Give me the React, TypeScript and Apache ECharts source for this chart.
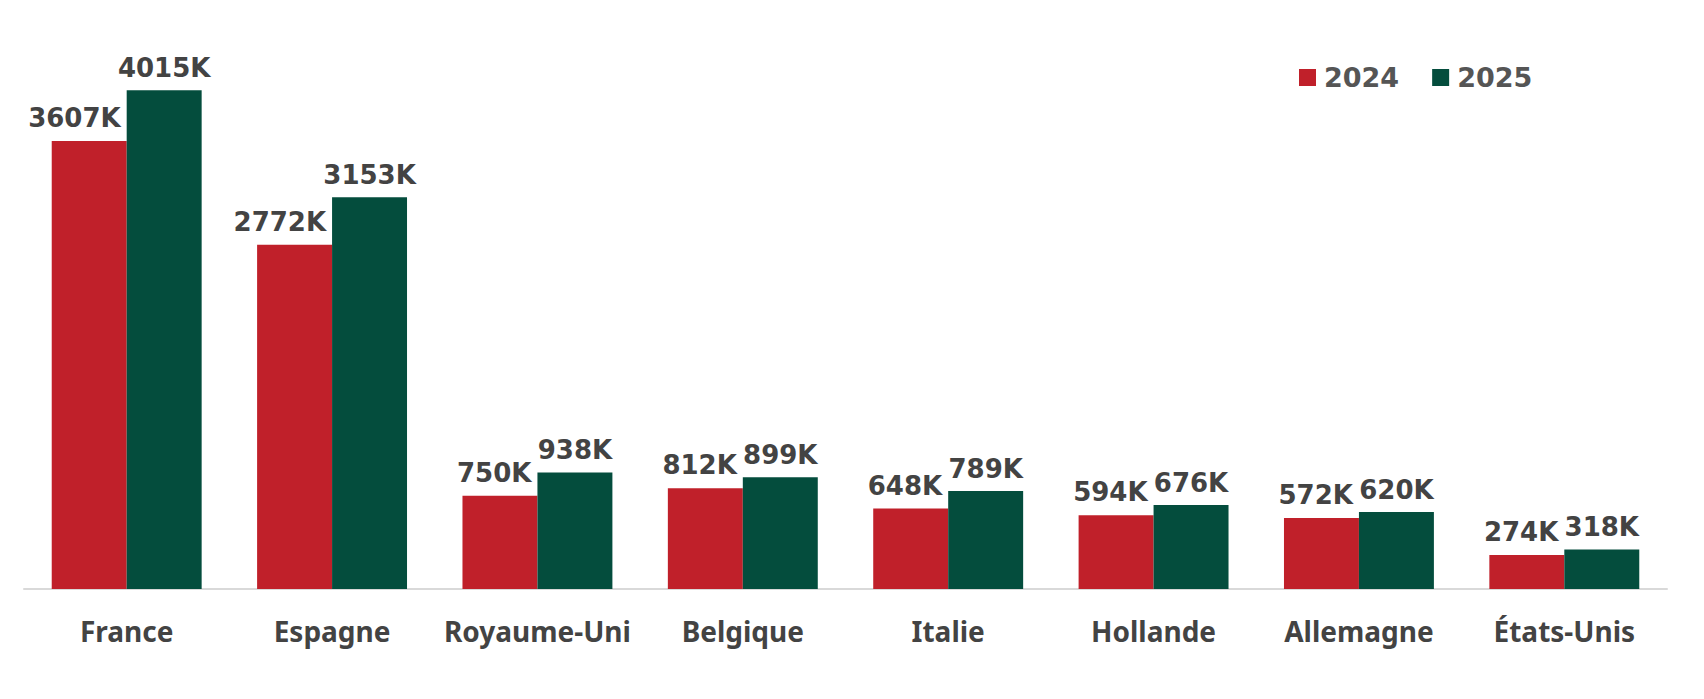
import { useEffect, useRef } from 'react';
import * as echarts from 'echarts';

const countries = ['France', 'Espagne', 'Royaume-Uni', 'Belgique', 'Italie', 'Hollande', 'Allemagne', 'États-Unis'];
const values2024 = [3607, 2772, 750, 812, 648, 594, 572, 274];
const values2025 = [4015, 3153, 938, 899, 789, 676, 620, 318];
const seriesNames = ['2024', '2025'];

const RED = '#c0202a';
const GREEN = '#044d3d';
const TEXT = '#434343';

export default function App() {
  const chartRef = useRef<HTMLDivElement>(null);

  useEffect(() => {
    if (!chartRef.current) return;

    const chart = echarts.init(chartRef.current, null, { renderer: 'svg' });

    const labelFont = {
      fontFamily: 'DejaVu Sans',
      fontWeight: 'bold' as const,
      fontSize: 26,
      color: TEXT,
    };

    chart.setOption({
      animation: false,
      legend: {
        data: seriesNames,
        left: 1294,
        top: 59,
        itemWidth: 17,
        itemHeight: 17,
        itemGap: 33,
        icon: 'rect',
        textStyle: {
          fontFamily: 'DejaVu Sans',
          fontWeight: 'bold',
          fontSize: 27,
          color: '#555555',
          padding: [0, 0, 0, 3],
        },
      },
      grid: {
        left: 24,
        right: 37,
        top: 30,
        bottom: 110,
      },
      xAxis: {
        type: 'category',
        data: countries,
        axisTick: { show: false },
        axisLine: {
          lineStyle: { color: '#d9d9d9', width: 2 },
        },
        axisLabel: {
          interval: 0,
          margin: 28,
          fontFamily: 'Noto Sans',
          fontWeight: 'bold',
          fontSize: 28,
          color: TEXT,
        },
      },
      yAxis: {
        type: 'value',
        min: 0,
        max: 4500,
        show: false,
        splitLine: { show: false },
      },
      series: [
        {
          name: seriesNames[0],
          type: 'bar',
          data: values2024,
          barWidth: '36.5%',
          barGap: '0%',
          itemStyle: { color: RED },
          label: {
            show: true,
            position: ['100%', 0],
            offset: [-6, -10],
            align: 'right',
            verticalAlign: 'bottom',
            formatter: '{c}K',
            ...labelFont,
          },
        },
        {
          name: seriesNames[1],
          type: 'bar',
          data: values2025,
          barWidth: '36.5%',
          barGap: '0%',
          itemStyle: { color: GREEN },
          label: {
            show: true,
            position: 'top',
            distance: 9,
            formatter: '{c}K',
            ...labelFont,
          },
        },
      ],
    });

    return () => {
      chart.dispose();
    };
  }, []);

  return (
    <div
      ref={chartRef}
      style={{ position: 'fixed', left: 0, top: 0, width: '1704px', height: '699px', background: '#ffffff' }}
    />
  );
}
